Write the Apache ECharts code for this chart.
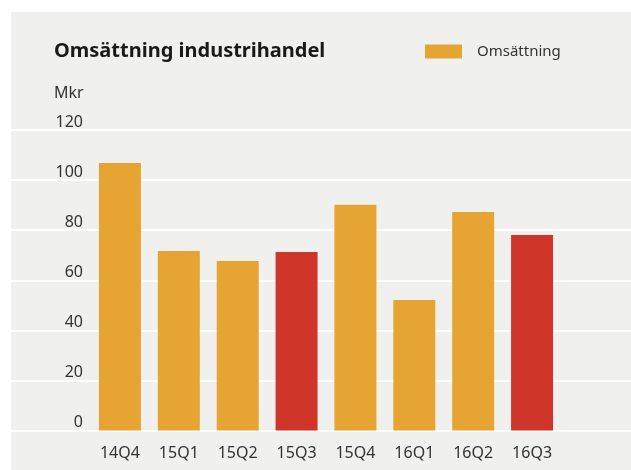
<!DOCTYPE html>
<html>
<head>
<meta charset="utf-8">
<script src="https://cdn.jsdelivr.net/npm/echarts@6/dist/echarts.min.js"></script>
<style>
  html, body { margin: 0; padding: 0; background: #ffffff; }
  #panel { position: absolute; left: 11px; top: 12px; width: 620px; height: 458px; background: #f0f0ee; }
</style>
</head>
<body>
<div id="panel"></div>
<script>
const title = 'Omsättning industrihandel';
const unitLabel = 'Mkr';
const seriesName = 'Omsättning';
const categories = ['14Q4', '15Q1', '15Q2', '15Q3', '15Q4', '16Q1', '16Q2', '16Q3'];
const values = [106.8, 71.7, 67.7, 71.3, 90.1, 52.1, 87.3, 78.1];
const highlighted = ['15Q3', '16Q3'];
const yTicks = [0, 20, 40, 60, 80, 100, 120];

const ORANGE = '#e6a532';
const RED = '#cf3629';
const FONT = '"Noto Sans", "Open Sans", sans-serif';

const chart = echarts.init(document.getElementById('panel'), null, { renderer: 'canvas' });

const yMin = yTicks[0], yMax = yTicks[yTicks.length - 1], yStep = yTicks[1] - yTicks[0];

chart.setOption({
  animation: false,
  backgroundColor: 'transparent',
  title: {
    text: title,
    left: 43,
    top: 29,
    padding: 0,
    textStyle: { fontFamily: FONT, fontSize: 20, fontWeight: 'bold', color: '#1a1a1a' }
  },
  legend: {
    left: 414,
    top: 32,
    padding: 0,
    itemWidth: 37,
    itemHeight: 14,
    icon: 'rect',
    data: [seriesName],
    textStyle: { fontFamily: FONT, fontSize: 15, color: '#333333', padding: [0, 0, 0, 10] }
  },
  graphic: [{
    type: 'text',
    left: 43,
    top: 73,
    style: { text: unitLabel, font: '16px ' + FONT, fill: '#333333' }
  }],
  grid: [
    { left: 0, right: 0, top: 118, bottom: 39.5, containLabel: false },
    { left: 79.5, width: 471, top: 118, bottom: 39.5, containLabel: false }
  ],
  xAxis: [
    { type: 'value', gridIndex: 0, show: false, min: 0, max: 1 },
    {
      type: 'category', gridIndex: 1, data: categories,
      axisLine: { show: false }, axisTick: { show: false },
      axisLabel: { fontFamily: FONT, fontSize: 16, color: '#333333', margin: 15 }
    }
  ],
  yAxis: [
    {
      type: 'value', gridIndex: 0, min: yMin, max: yMax, interval: yStep,
      axisLine: { show: false }, axisTick: { show: false },
      splitLine: { show: true, lineStyle: { color: '#ffffff', width: 2 } },
      axisLabel: {
        fontFamily: FONT, fontSize: 16, color: '#333333',
        align: 'right', verticalAlign: 'bottom', margin: -72, padding: 0
      }
    },
    {
      type: 'value', gridIndex: 1, min: yMin, max: yMax, interval: yStep,
      show: false, splitLine: { show: false }
    }
  ],
  series: [{
    name: seriesName,
    type: 'bar',
    xAxisIndex: 1,
    yAxisIndex: 1,
    barWidth: 42,
    itemStyle: { color: ORANGE },
    data: values.map((v, i) => highlighted.includes(categories[i])
      ? { value: v, itemStyle: { color: RED } }
      : v)
  }]
});
</script>
</body>
</html>
